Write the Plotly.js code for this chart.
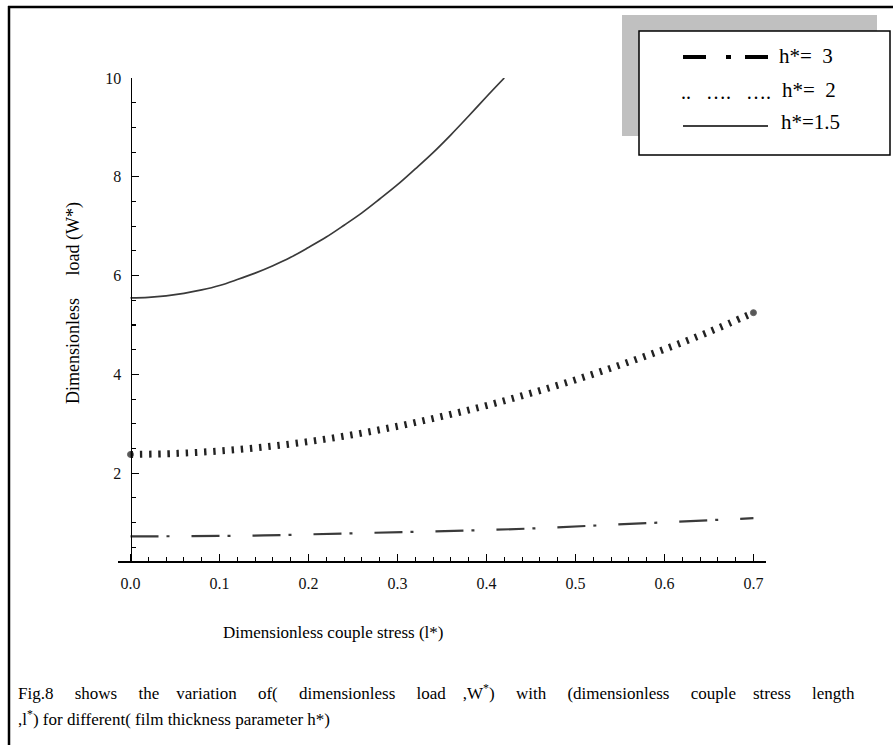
<!DOCTYPE html>
<html>
<head>
<meta charset="utf-8">
<script src="https://cdn.plot.ly/plotly-3.0.1.min.js"></script>
<style>html,body{margin:0;padding:0;background:#fff;}#chart{width:893px;height:745px;}</style>
</head>
<body>
<div id="chart"></div>
<script>
// ---- data ----
var lH15 = [0, 0.02, 0.04, 0.06, 0.08, 0.10, 0.12, 0.14, 0.16, 0.18, 0.20, 0.22, 0.24, 0.26, 0.28, 0.30, 0.32, 0.34, 0.36, 0.38, 0.40, 0.42];
var wH15 = [5.55, 5.56, 5.59, 5.64, 5.71, 5.80, 5.92, 6.05, 6.20, 6.37, 6.57, 6.78, 7.02, 7.27, 7.55, 7.84, 8.16, 8.49, 8.85, 9.23, 9.62, 10.0];
var lH2 = [0, 0.05, 0.10, 0.15, 0.20, 0.25, 0.30, 0.35, 0.40, 0.45, 0.50, 0.55, 0.60, 0.65, 0.70];
var wH2 = [2.38, 2.40, 2.45, 2.53, 2.64, 2.78, 2.95, 3.15, 3.37, 3.62, 3.89, 4.19, 4.51, 4.86, 5.25];
var lH3 = [0, 0.05, 0.10, 0.15, 0.20, 0.25, 0.30, 0.35, 0.40, 0.45, 0.50, 0.55, 0.60, 0.65, 0.70];
var wH3 = [0.72, 0.72, 0.73, 0.74, 0.76, 0.78, 0.80, 0.82, 0.85, 0.88, 0.92, 0.96, 1.00, 1.04, 1.09];
var legendLabels = ["h*=\u00a0 3", "h*=\u00a0 2", "h*=1.5"];
var xTitle = "Dimensionless couple stress (l*)";
var yTitle = "Dimensionless\u00a0\u00a0\u00a0\u00a0 load (W*)";
var G5 = "\u00a0\u00a0\u00a0\u00a0 ", G4 = "\u00a0\u00a0\u00a0 ";
var captionLines = [
  "Fig.8" + G5 + "shows" + G5 + "the" + G4 + "variation" + G5 + "of(" + G5 + "dimensionless" + G5 + "load" + G4 + ",W<sup>*</sup>)" + G5 + "with" + G5 + "(dimensionless" + G5 + "couple" + G4 + "stress" + G5 + "length",
  ",l<sup>*</sup>) for different( film thickness parameter h*)"
];

// ---- layout helpers (pixel -> paper) ----
var W = 893, H = 745, ML = 118, MR = 127, MT = 78, MB = 184;
var PW = W - ML - MR, PH = H - MT - MB;
function X(px){ return (px - ML) / PW; }
function Y(py){ return (H - MB - py) / PH; }

var serif = "Liberation Serif";

var traces = [
  { x: lH3, y: wH3, mode: "lines", showlegend: false, hoverinfo: "skip",
    line: { color: "#3a3a3a", width: 2.2, dash: "28px,8px,3px,22px" } },
  { x: lH2, y: wH2, mode: "lines+markers", showlegend: false, hoverinfo: "skip",
    line: { color: "#222", width: 7, dash: "2.4px,6.8px", shape: "spline" },
    marker: { color: "#111", size: lH2.map(function(v, i){ return (i === 0 || i === lH2.length - 1) ? 6 : 0; }) } },
  { x: lH15, y: wH15, mode: "lines", showlegend: false, hoverinfo: "skip",
    line: { color: "#3a3a3a", width: 1.7, shape: "spline" } }
];

var shapes = [
  { type: "line", xref: "paper", yref: "paper", x0: X(9), x1: X(9), y0: Y(6), y1: Y(760), line: { color: "#000", width: 2.5 } },
  { type: "line", xref: "paper", yref: "paper", x0: X(8), x1: X(900), y0: Y(7), y1: Y(7), line: { color: "#000", width: 2.5 } },
  { type: "rect", xref: "paper", yref: "paper", x0: X(622), x1: X(877), y0: Y(15), y1: Y(136), fillcolor: "#c0c0c0", line: { width: 0 } },
  { type: "rect", xref: "paper", yref: "paper", x0: X(639), x1: X(890), y0: Y(31), y1: Y(155), fillcolor: "#fff", line: { color: "#000", width: 1.5 } },
  { type: "line", xref: "paper", yref: "paper", x0: X(683), x1: X(706), y0: Y(57), y1: Y(57), line: { color: "#000", width: 4 } },
  { type: "line", xref: "paper", yref: "paper", x0: X(726), x1: X(731), y0: Y(57), y1: Y(57), line: { color: "#000", width: 4 } },
  { type: "line", xref: "paper", yref: "paper", x0: X(745), x1: X(768), y0: Y(57), y1: Y(57), line: { color: "#000", width: 4 } },
  { type: "line", xref: "paper", yref: "paper", x0: X(683), x1: X(768), y0: Y(126), y1: Y(126), line: { color: "#000", width: 1.5 } }
];

var annotations = [
  { xref: "paper", yref: "paper", x: X(73), y: Y(303), text: yTitle, textangle: -90, showarrow: false,
    xanchor: "center", yanchor: "middle", font: { family: serif, size: 18, color: "#000" } },
  { xref: "paper", yref: "paper", x: X(333), y: Y(632), text: xTitle, showarrow: false,
    xanchor: "center", yanchor: "middle", font: { family: serif, size: 17, color: "#000" } },
  { xref: "paper", yref: "paper", x: X(16), y: Y(692), text: captionLines[0], showarrow: false,
    xanchor: "left", yanchor: "middle", font: { family: serif, size: 17, color: "#000" } },
  { xref: "paper", yref: "paper", x: X(16), y: Y(718), text: captionLines[1], showarrow: false,
    xanchor: "left", yanchor: "middle", font: { family: serif, size: 17, color: "#000" } },
  { xref: "paper", yref: "paper", x: X(777), y: Y(56), text: legendLabels[0], showarrow: false,
    xanchor: "left", yanchor: "middle", font: { family: serif, size: 21, color: "#000" } },
  { xref: "paper", yref: "paper", x: X(679), y: Y(92), text: "..\u00a0\u00a0\u00a0….\u00a0\u00a0\u00a0….", showarrow: false,
    xanchor: "left", yanchor: "middle", font: { family: serif, size: 20, color: "#000" } },
  { xref: "paper", yref: "paper", x: X(780), y: Y(90), text: legendLabels[1], showarrow: false,
    xanchor: "left", yanchor: "middle", font: { family: serif, size: 21, color: "#000" } },
  { xref: "paper", yref: "paper", x: X(779), y: Y(122), text: legendLabels[2], showarrow: false,
    xanchor: "left", yanchor: "middle", font: { family: serif, size: 21, color: "#000" } }
];

var layout = {
  width: W, height: H,
  margin: { l: ML, r: MR, t: MT, b: MB, pad: 0 },
  paper_bgcolor: "#fff", plot_bgcolor: "rgba(0,0,0,0)",
  showlegend: false,
  font: { family: serif },
  xaxis: {
    range: [-0.01406, 0.7141], showgrid: false, zeroline: false,
    showline: true, linecolor: "#000", linewidth: 1.5,
    ticks: "inside", ticklen: 7, tickwidth: 1.3, tickcolor: "#000",
    tick0: 0, dtick: 0.1, tickformat: ".1f",
    minor: { ticks: "inside", dtick: 0.02, tick0: 0, ticklen: 4, tickwidth: 1.1, tickcolor: "#000", showgrid: false },
    tickfont: { family: serif, size: 16, color: "#111" }, ticklabelstandoff: 7
  },
  yaxis: {
    range: [0.223, 10], showgrid: false, zeroline: false,
    anchor: "free", position: X(130.5),
    showline: true, linecolor: "#000", linewidth: 1.5,
    ticks: "inside", ticklen: 7, tickwidth: 1.3, tickcolor: "#000",
    tick0: 0, dtick: 2,
    minor: { ticks: "inside", dtick: 0.5, tick0: 0, ticklen: 4, tickwidth: 1.1, tickcolor: "#000", showgrid: false },
    tickfont: { family: serif, size: 16, color: "#111" }, ticklabelstandoff: 6
  },
  shapes: shapes,
  annotations: annotations
};

Plotly.newPlot("chart", traces, layout, { staticPlot: true, displayModeBar: false });
</script>
</body>
</html>
